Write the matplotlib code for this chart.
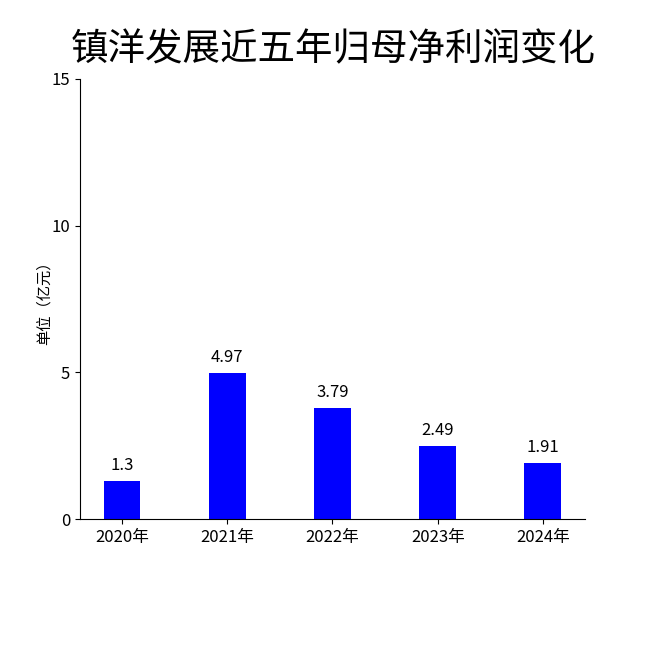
import matplotlib
matplotlib.use("Agg")
import matplotlib.pyplot as plt

plt.rcParams['font.family'] = ['Noto Sans CJK SC', 'DejaVu Sans']

years = ["2020年", "2021年", "2022年", "2023年", "2024年"]
values = [1.3, 4.97, 3.79, 2.49, 1.91]
labels = ["1.3", "4.97", "3.79", "2.49", "1.91"]

fig = plt.figure(figsize=(6.5, 6.5), dpi=100)
ax = fig.add_axes([0.123, 0.2015, 0.777, 0.677])
x = list(range(len(years)))
bars = ax.bar(x, values, width=0.35, color="#0000FF")
for xi, v, t in zip(x, values, labels):
    ax.text(xi, v + 0.25, t, ha="center", va="bottom", fontsize=12)
ax.set_xlim(-0.4, 4.4)
ax.set_ylim(0, 15)
ax.set_yticks([0, 5, 10, 15])
ax.set_xticks(x)
ax.set_xticklabels(years)
ax.tick_params(labelsize=12)
ax.spines['top'].set_visible(False)
ax.spines['right'].set_visible(False)
ax.set_ylabel("单位（亿元）", fontsize=11, labelpad=-1)
fig.text(0.512, 0.923, "镇洋发展近五年归母净利润变化", ha="center", va="center", fontsize=27)
fig.savefig("out.png", dpi=100)
